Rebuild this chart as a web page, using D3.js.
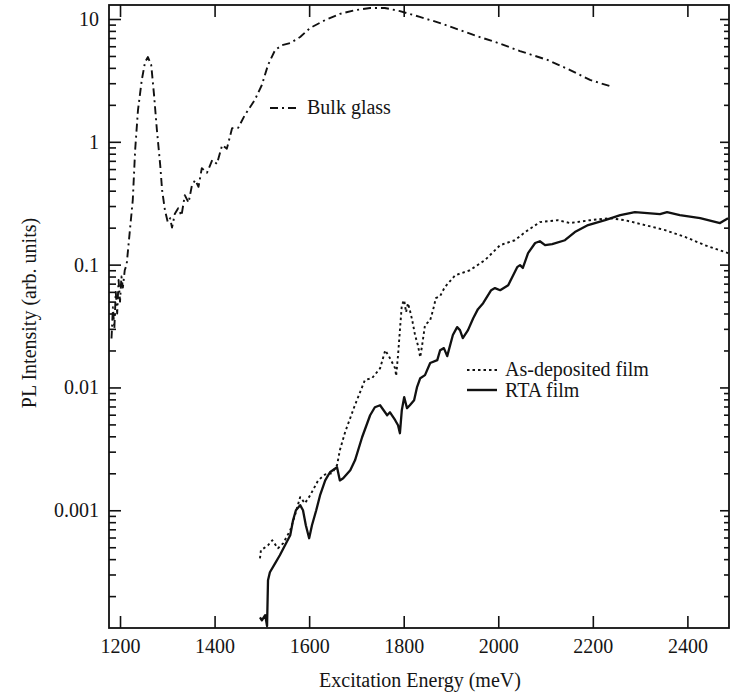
<!DOCTYPE html>
<html>
<head>
<meta charset="utf-8">
<script src="https://cdn.jsdelivr.net/npm/d3@7"></script>
<style>
  html, body { margin: 0; padding: 0; background: #fff; overflow: hidden; }
  svg { display: block; }
  text { font-family: "Liberation Serif", "DejaVu Serif", serif; fill: #151515; }
</style>
</head>
<body>
<div id="chart"></div>
<script>
// Excitation energy (meV) and PL intensity (arb. units).
const bulkEnergy = [1182, 1185, 1188, 1191, 1194, 1197, 1200, 1203, 1206, 1210, 1214,
  1227, 1232, 1238, 1246, 1253, 1259, 1266, 1272, 1278, 1285, 1289, 1295, 1301, 1306,
  1310, 1316, 1323, 1330, 1337, 1345, 1352, 1359, 1366, 1373, 1384, 1395, 1405, 1416,
  1426, 1437, 1450, 1464, 1485, 1500, 1513, 1528, 1543, 1560, 1581, 1602, 1634, 1665,
  1697, 1729, 1760, 1792, 1834, 1877, 1919, 1961, 2000, 2046, 2105, 2152, 2194, 2243];
const bulkValue = [0.025, 0.045, 0.03, 0.06, 0.04, 0.075, 0.05, 0.08, 0.065, 0.09, 0.1,
  0.336, 0.857, 1.81, 3.18, 4.46, 4.9, 4.22, 2.4, 1.25, 0.647, 0.405, 0.278, 0.222, 0.239,
  0.2, 0.26, 0.288, 0.25, 0.368, 0.32, 0.44, 0.488, 0.43, 0.611, 0.56, 0.71, 0.66, 0.94,
  0.88, 1.29, 1.3, 1.65, 2.19, 2.9, 4.22, 5.59, 6.13, 6.37, 7.13, 8.45, 9.8, 11.0,
  11.8, 12.3, 12.3, 11.6, 10.4, 9.27, 8.13, 7.13, 6.37, 5.48, 4.63, 3.84, 3.19, 2.79];

const asDepEnergy = [1496, 1498, 1513, 1522, 1534, 1545, 1560, 1570, 1581, 1591, 1602,
  1619, 1634, 1648, 1659, 1665, 1676, 1697, 1718, 1733, 1750, 1761, 1771, 1782, 1784,
  1788, 1792, 1796, 1801, 1805, 1809, 1813, 1818, 1824, 1830, 1835, 1839, 1845, 1856,
  1862, 1868, 1877, 1887, 1909, 1940, 1972, 2004, 2035, 2057, 2088, 2126, 2152, 2194,
  2236, 2268, 2310, 2353, 2395, 2437, 2486];
const asDepValue = [4.06e-4, 4.72e-4, 5.19e-4, 5.7e-4, 4.9e-4, 5.38e-4, 6.87e-4, 9.1e-4,
  1.28e-3, 1.14e-3, 1.32e-3, 1.75e-3, 1.96e-3, 2.0e-3, 2.33e-3, 3.08e-3, 4.32e-3, 7.2e-3,
  1.15e-2, 1.19e-2, 1.43e-2, 2.01e-2, 1.73e-2, 1.43e-2, 1.24e-2, 1.83e-2, 2.93e-2, 4.68e-2,
  5.14e-2, 4.1e-2, 4.85e-2, 4.26e-2, 3.53e-2, 2.67e-2, 2.21e-2, 1.76e-2, 2.21e-2, 3.21e-2,
  3.53e-2, 4.26e-2, 5.33e-2, 5.54e-2, 6.56e-2, 8.2e-2, 0.09, 0.109, 0.144, 0.158, 0.184,
  0.222, 0.23, 0.218, 0.23, 0.239, 0.23, 0.21, 0.191, 0.168, 0.144, 0.124];

const rtaEnergy = [1496, 1500, 1507, 1511, 1513, 1517, 1528, 1538, 1549, 1560, 1566,
  1572, 1581, 1587, 1593, 1600, 1606, 1615, 1623, 1634, 1644, 1659, 1665, 1672, 1687,
  1697, 1712, 1729, 1739, 1750, 1765, 1771, 1782, 1788, 1792, 1796, 1801, 1807, 1813,
  1822, 1828, 1835, 1845, 1856, 1871, 1877, 1885, 1892, 1904, 1913, 1919, 1925, 1936,
  1947, 1957, 1968, 1985, 1993, 2004, 2021, 2040, 2046, 2052, 2063, 2078, 2088, 2099,
  2114, 2141, 2162, 2190, 2226, 2258, 2289, 2342, 2357, 2384, 2427, 2469, 2486];
const rtaValue = [1.34e-4, 1.27e-4, 1.4e-4, 1.14e-4, 2.69e-4, 3.13e-4, 3.7e-4, 4.3e-4,
  5.19e-4, 6.25e-4, 8.3e-4, 1.0e-3, 1.1e-3, 1.0e-3, 7.55e-4, 5.92e-4, 7.55e-4, 1.0e-3,
  1.32e-3, 1.75e-3, 2.04e-3, 2.24e-3, 1.75e-3, 1.82e-3, 2.12e-3, 2.55e-3, 3.93e-3,
  5.94e-3, 6.9e-3, 7.16e-3, 5.94e-3, 6.28e-3, 5.41e-3, 4.92e-3, 4.24e-3, 6.53e-3,
  8.34e-3, 6.78e-3, 7.16e-3, 7.87e-3, 1.0e-2, 1.19e-2, 1.26e-2, 1.58e-2, 1.67e-2,
  2.01e-2, 2.09e-2, 1.8e-2, 2.67e-2, 3.1e-2, 2.93e-2, 2.52e-2, 2.93e-2, 3.66e-2, 4.34e-2,
  4.85e-2, 6.19e-2, 6.44e-2, 6.19e-2, 6.8e-2, 9.54e-2, 9.9e-2, 9.4e-2, 0.124, 0.15,
  0.155, 0.144, 0.147, 0.158, 0.184, 0.21, 0.23, 0.253, 0.268, 0.258, 0.268, 0.253,
  0.239, 0.218, 0.239];

const xTicks = [1200, 1400, 1600, 1800, 2000, 2200, 2400];
const yTicks = [0.001, 0.01, 0.1, 1, 10];
const yTickLabels = ["0.001", "0.01", "0.1", "1", "10"];

const width = 731, height = 695;
const margin = { top: 5, right: 2, bottom: 67, left: 109 };
const innerWidth = width - margin.left - margin.right,
  innerHeight = height - margin.top - margin.bottom;

const svg = d3.select("#chart")
  .append("svg")
  .attr("width", width)
  .attr("height", height);

const g = svg.append("g")
  .attr("transform", `translate(${margin.left},${margin.top})`);

const x = d3.scaleLinear().domain([1176.7, 2488]).range([0, innerWidth]);
const y = d3.scaleLog().domain([1.1e-4, 13]).range([innerHeight, 0]);

// minor ticks for the log axis
const minorTicks = [];
for (let e = -4; e <= 1; e++) {
  for (let m = 2; m <= 9; m++) {
    const v = m * Math.pow(10, e);
    if (v > 1.1e-4 && v < 13) minorTicks.push(v);
  }
}

function styleAxis(sel) {
  sel.select(".domain").remove();
  sel.selectAll("line").attr("stroke", "#111").attr("stroke-width", 1.6);
  sel.selectAll("text")
    .attr("font-size", 20)
    .attr("fill", "#151515");
}

g.append("g")
  .attr("transform", `translate(0,${innerHeight})`)
  .call(d3.axisBottom(x).tickValues(xTicks).tickSize(-12).tickPadding(11).tickFormat(d3.format("d")))
  .call(styleAxis);

g.append("g")
  .call(d3.axisTop(x).tickValues(xTicks).tickSize(-12).tickFormat(""))
  .call(styleAxis);

g.append("g")
  .call(d3.axisLeft(y).tickValues(yTicks).tickSize(-12).tickPadding(10)
    .tickFormat((d, i) => yTickLabels[i]))
  .call(styleAxis);

g.append("g")
  .call(d3.axisLeft(y).tickValues(minorTicks).tickSize(-7).tickFormat(""))
  .call(styleAxis);

g.append("g")
  .attr("transform", `translate(${innerWidth},0)`)
  .call(d3.axisRight(y).tickValues(yTicks).tickSize(-9).tickFormat(""))
  .call(styleAxis);

g.append("g")
  .attr("transform", `translate(${innerWidth},0)`)
  .call(d3.axisRight(y).tickValues(minorTicks).tickSize(-5).tickFormat(""))
  .call(styleAxis);

g.append("rect")
  .attr("width", innerWidth)
  .attr("height", innerHeight)
  .attr("fill", "none")
  .attr("stroke", "#111")
  .attr("stroke-width", 1.8);

g.append("clipPath").attr("id", "clip")
  .append("rect").attr("width", innerWidth).attr("height", innerHeight);

const line = d3.line()
  .x((d) => x(d[0]))
  .y((d) => y(d[1]));

const series = [
  { energy: bulkEnergy, value: bulkValue, dash: "8,4,2,4", width: 1.9 },
  { energy: asDepEnergy, value: asDepValue, dash: "2.5,3", width: 1.9 },
  { energy: rtaEnergy, value: rtaValue, dash: null, width: 2.3 },
];

g.append("g")
  .attr("clip-path", "url(#clip)")
  .selectAll("path")
  .data(series)
  .join("path")
  .attr("d", (s) => line(s.energy.map((e, i) => [e, s.value[i]])))
  .attr("fill", "none")
  .attr("stroke", "#111")
  .attr("stroke-width", (s) => s.width)
  .attr("stroke-dasharray", (s) => s.dash)
  .attr("stroke-linejoin", "round");

// legends
const legend = [
  { label: "Bulk glass", x0: 270, x1: 298, ly: 108, tx: 307, ty: 114, dash: "8,4,2,4", width: 1.9 },
  { label: "As-deposited film", x0: 467, x1: 498, ly: 370, tx: 505, ty: 376, dash: "2.5,3", width: 1.9 },
  { label: "RTA film", x0: 467, x1: 497, ly: 390, tx: 505, ty: 397, dash: null, width: 2.4 },
];

svg.selectAll(".leg-line")
  .data(legend)
  .join("line")
  .attr("x1", (d) => d.x0).attr("x2", (d) => d.x1)
  .attr("y1", (d) => d.ly).attr("y2", (d) => d.ly)
  .attr("stroke", "#111")
  .attr("stroke-width", (d) => d.width)
  .attr("stroke-dasharray", (d) => d.dash);

svg.selectAll(".leg-text")
  .data(legend)
  .join("text")
  .attr("x", (d) => d.tx)
  .attr("y", (d) => d.ty)
  .attr("font-size", 20)
  .text((d) => d.label);

svg.append("text")
  .attr("x", 420)
  .attr("y", 687)
  .attr("text-anchor", "middle")
  .attr("font-size", 20)
  .text("Excitation Energy (meV)");

svg.append("text")
  .attr("transform", "translate(36,313)rotate(-90)")
  .attr("text-anchor", "middle")
  .attr("font-size", 20)
  .text("PL Intensity (arb. units)");
</script>
</body>
</html>
